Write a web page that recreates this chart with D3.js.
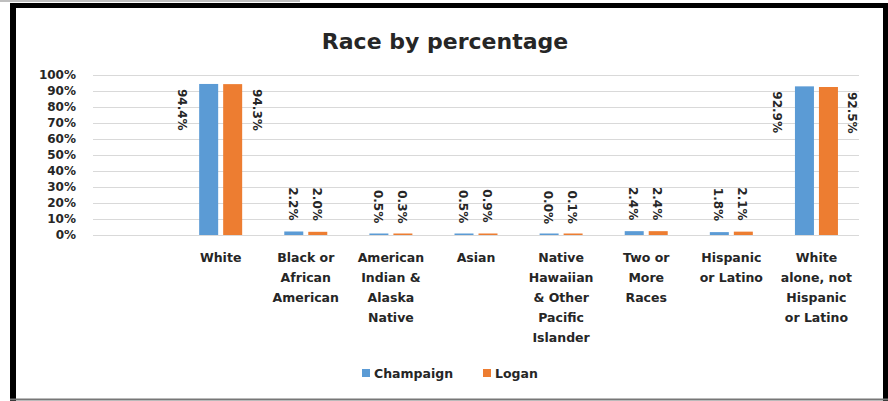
<!DOCTYPE html>
<html><head><meta charset="utf-8">
<script src="https://cdn.jsdelivr.net/npm/d3@7"></script>
<style>
html,body{margin:0;padding:0;background:#fff;}
svg{display:block;font-family:"DejaVu Sans",sans-serif;}
</style></head>
<body><svg id="c" width="888" height="401"></svg>
<script>
const categories = ["", "White", "Black or\nAfrican\nAmerican", "American\nIndian &\nAlaska\nNative", "Asian", "Native\nHawaiian\n& Other\nPacific\nIslander", "Two or\nMore\nRaces", "Hispanic\nor Latino", "White\nalone, not\nHispanic\nor Latino"];
const champaign = [null, 0.944, 0.022, 0.005, 0.005, 0.000, 0.024, 0.018, 0.929];
const logan = [null, 0.943, 0.020, 0.003, 0.009, 0.001, 0.024, 0.021, 0.925];
const seriesNames = ["Champaign", "Logan"];
const colors = ["#5B9BD5", "#ED7D31"];
const yTicks = [0,0.1,0.2,0.3,0.4,0.5,0.6,0.7,0.8,0.9,1.0];
const title = "Race by percentage";

const svg = d3.select("#c");
const textColor = "#262626";

// frame
svg.append("line").attr("x1",0).attr("x2",300).attr("y1",1).attr("y2",1).attr("stroke","#aaa").attr("stroke-width",1.5);
svg.append("line").attr("x1",13).attr("x2",13).attr("y1",3).attr("y2",401).attr("stroke","#000").attr("stroke-width",6);
svg.append("line").attr("x1",10).attr("x2",888).attr("y1",5.5).attr("y2",5.5).attr("stroke","#000").attr("stroke-width",5);
svg.append("line").attr("x1",885.5).attr("x2",885.5).attr("y1",3).attr("y2",401).attr("stroke","#000").attr("stroke-width",5);
svg.append("line").attr("x1",10).attr("x2",888).attr("y1",399.5).attr("y2",399.5).attr("stroke","#777").attr("stroke-width",2);

svg.append("text").attr("x",445).attr("y",49).attr("text-anchor","middle")
  .attr("font-size",22).attr("font-weight","bold").attr("fill",textColor).text(title);

const x = d3.scaleBand().domain(d3.range(categories.length)).range([93,859]).padding(0);
const y = d3.scaleLinear().domain([0,1]).range([235,75]);

// gridlines
svg.append("g").selectAll("line").data(yTicks).join("line")
  .attr("x1",93).attr("x2",859).attr("y1",d=>Math.round(y(d))+0.5).attr("y2",d=>Math.round(y(d))+0.5)
  .attr("stroke","#d9d9d9").attr("stroke-width",1);

// y axis
const yAxis = d3.axisLeft(y).tickValues(yTicks).tickFormat(d3.format(".0%")).tickSize(0).tickPadding(0);
const gy = svg.append("g").attr("transform","translate(76,0)").call(yAxis);
gy.select(".domain").remove();
gy.selectAll("text").attr("font-size",12).attr("font-weight","bold").attr("fill",textColor).attr("font-family","DejaVu Sans");

const bw = 19, gap = 2.5;
const series = [champaign, logan];
series.forEach((vals, si) => {
  const g = svg.append("g");
  const data = vals.map((v,i)=>({v,i})).filter(d=>d.v!==null);
  const bx = d => x(d.i) + x.bandwidth()/2 + (si===0 ? -gap-bw : gap);
  g.selectAll("rect").data(data).join("rect")
    .attr("x", bx).attr("width", bw)
    .attr("y", d=>Math.min(y(d.v), y(0)-1.5)).attr("height", d=>Math.max(y(0)-y(d.v),1.5))
    .attr("fill", colors[si]);
  g.selectAll("text").data(data).join("text")
    .attr("font-size",12).attr("font-weight","bold").attr("fill",textColor)
    .attr("dominant-baseline","central")
    .attr("text-anchor", d => d.v > 0.5 ? "start" : "end")
    .attr("transform", d => {
      const cx = bx(d) + bw/2;
      if (d.v > 0.5) {
        const lx = si===0 ? cx - 27 : cx + 24;
        return `translate(${lx},${y(d.v)+5}) rotate(90)`;
      }
      return `translate(${cx-1},${y(d.v)-11}) rotate(90)`;
    })
    .text(d => d3.format(".1%")(d.v));
});

// x labels
const gx = svg.append("g");
categories.forEach((c,i) => {
  if (!c) return;
  const t = gx.append("text").attr("text-anchor","middle").attr("font-size",12.5).attr("font-weight","bold").attr("fill",textColor);
  c.split("\n").forEach((line,k) => {
    t.append("tspan").attr("x", x(i)+x.bandwidth()/2).attr("y", 262 + k*20).text(line);
  });
});

// legend
const leg = svg.append("g");
const legItems = [{x:362, name:seriesNames[0], c:colors[0]},{x:483, name:seriesNames[1], c:colors[1]}];
legItems.forEach(li => {
  leg.append("rect").attr("x",li.x).attr("y",369).attr("width",8).attr("height",8).attr("fill",li.c);
  leg.append("text").attr("x",li.x+12).attr("y",377.5).attr("font-size",12.5).attr("font-weight","bold").attr("fill",textColor).text(li.name);
});
</script></body></html>
